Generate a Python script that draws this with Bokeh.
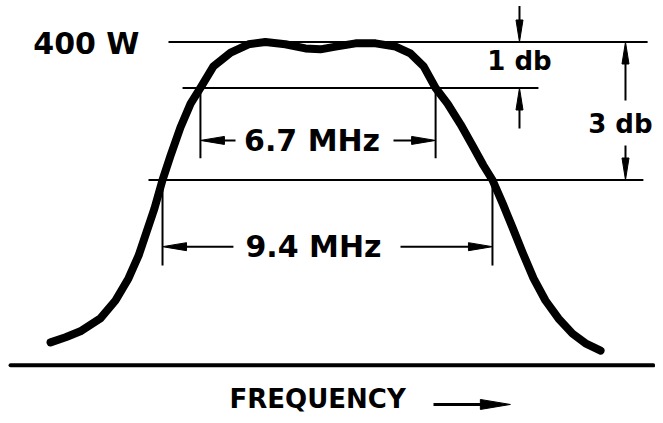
import math
from bokeh.plotting import figure
from bokeh.models import Range1d
from bokeh.core.properties import value
from bokeh.embed import file_html
from bokeh.resources import INLINE

# ---------------- data ----------------
# Frequency offset from band centre (MHz) and response level (dB re 400 W)
freq_mhz = [-7.89, -7.46, -7.04, -6.47, -6.04, -5.67, -5.38, -5.16, -4.93, -4.70,
            -4.47, -4.19, -3.90, -3.62, -3.25, -2.76, -2.25, -1.77, -1.20, -0.63,
            -0.20, 0.23, 0.80, 1.37, 1.94, 2.36, 2.74, 3.08, 3.42, 3.79,
            4.13, 4.44, 4.70, 4.99, 5.27, 5.56, 5.87, 6.21, 6.58, 6.98,
            7.35, 7.78]
level_db = [-6.53, -6.42, -6.29, -6.01, -5.62, -5.14, -4.64, -4.14, -3.62, -3.00,
            -2.47, -1.86, -1.34, -1.00, -0.53, -0.23, -0.05, 0.00, -0.05, -0.14,
            -0.16, -0.10, -0.03, -0.03, -0.10, -0.25, -0.53, -1.00, -1.34, -1.79,
            -2.25, -2.68, -3.00, -3.51, -4.03, -4.58, -5.14, -5.62, -6.01, -6.34,
            -6.55, -6.71]

ref_levels_db = [0.0, -1.0, -3.0]
ref_power_label = "400 W"
drop_labels = ["1 db", "3 db"]
bw_1db_edges = [-3.62, 3.08]     # 6.7 MHz
bw_3db_edges = [-4.70, 4.70]     # 9.4 MHz
bw_labels = ["6.7 MHz", "9.4 MHz"]
axis_label = "FREQUENCY"
baseline_db = -7.03

# ---------------- layout ----------------
W, H = 655, 415
X0, X1 = -9.316, 9.345
Y0, Y1 = -8.120, 0.902
SX = W / (X1 - X0)
SY = H / (Y1 - Y0)

FONT = value("DejaVu Sans")
INK = "#000000"

p = figure(width=W, height=H, output_backend="svg", toolbar_location=None,
           x_range=Range1d(X0, X1), y_range=Range1d(Y0, Y1),
           x_axis_location=None, y_axis_location=None, min_border=0,
           outline_line_color=None, background_fill_color="white",
           border_fill_color="white")
p.xgrid.visible = False
p.ygrid.visible = False

# reference horizontal lines
ref_x0 = [-4.53, -4.13, -5.10]
ref_x1 = [9.12, 6.01, 9.00]
p.segment(x0=ref_x0, y0=ref_levels_db, x1=ref_x1, y1=ref_levels_db,
          line_color=INK, line_width=2)
# baseline
p.segment(x0=[-9.03], y0=[baseline_db], x1=[9.28], y1=[baseline_db],
          line_color=INK, line_width=4, line_cap="round")

# extension lines for the bandwidth dimensions
ext_bottom_1db = -2.53
ext_bottom_3db = -4.86
p.segment(x0=bw_1db_edges, y0=[ref_levels_db[1]] * 2, x1=bw_1db_edges,
          y1=[ext_bottom_1db] * 2, line_color=INK, line_width=2)
p.segment(x0=bw_3db_edges, y0=[ref_levels_db[2]] * 2, x1=bw_3db_edges,
          y1=[ext_bottom_3db] * 2, line_color=INK, line_width=2)

# response curve
p.line(freq_mhz, level_db, line_color=INK, line_width=8,
       line_join="round", line_cap="round")

# ---------------- arrows ----------------
shafts = {"x0": [], "y0": [], "x1": [], "y1": [], "w": []}
heads_x, heads_y = [], []


def arrow(xt, yt, xh, yh, head_len=24, head_w=8, shaft_w=2):
    dxp = (xh - xt) * SX
    dyp = (yh - yt) * SY
    L = math.hypot(dxp, dyp)
    ux, uy = dxp / L, dyp / L
    nx, ny = -uy, ux
    bx = xh - ux * head_len / SX
    by = yh - uy * head_len / SY
    shafts["x0"].append(xt); shafts["y0"].append(yt)
    shafts["x1"].append(bx + ux * 2 / SX); shafts["y1"].append(by + uy * 2 / SY)
    shafts["w"].append(shaft_w)
    heads_x.append([xh, bx + nx * head_w / 2 / SX, bx - nx * head_w / 2 / SX])
    heads_y.append([yh, by + ny * head_w / 2 / SY, by - ny * head_w / 2 / SY])


row_67 = -2.14
row_94 = -4.45
arrow(-2.62, row_67, bw_1db_edges[0], row_67)
arrow(1.88, row_67, bw_1db_edges[1], row_67)
arrow(-2.68, row_94, bw_3db_edges[0], row_94)
arrow(2.08, row_94, bw_3db_edges[1], row_94)

col_1db = 5.47
col_3db = 8.49
arrow(col_1db, 0.78, col_1db, ref_levels_db[0], head_len=22, head_w=7)
arrow(col_1db, -1.88, col_1db, ref_levels_db[1], head_len=22, head_w=7)
arrow(col_3db, -1.27, col_3db, ref_levels_db[0], head_len=22, head_w=7)
arrow(col_3db, -2.25, col_3db, ref_levels_db[2], head_len=22, head_w=7)

freq_row = -7.88
arrow(3.02, freq_row, 5.21, freq_row, head_len=30, head_w=10, shaft_w=3)

p.segment(x0="x0", y0="y0", x1="x1", y1="y1", line_width="w",
          line_color=INK, source=shafts)
p.patches(heads_x, heads_y, fill_color=INK, line_color=INK, line_width=1)

# ---------------- texts ----------------
big_x = [-6.87, -0.44, -0.40]
big_y = [ref_levels_db[0] - 0.03, row_67, row_94]
big_t = [ref_power_label, bw_labels[0], bw_labels[1]]
p.text(x=big_x, y=big_y, text=big_t, text_font=FONT, text_font_style="bold",
       text_font_size="30px", text_align="center", text_baseline="middle",
       text_color=INK)

p.text(x=[-0.28], y=[freq_row + 0.12], text=[axis_label], text_font=FONT,
       text_font_style="bold", text_font_size="26px", text_align="center",
       text_baseline="middle", text_color=INK)

p.text(x=[col_1db], y=[-0.42], text=[drop_labels[0]], text_font=FONT,
       text_font_style="bold", text_font_size="26px", text_align="center",
       text_baseline="middle", text_color=INK)
p.text(x=[9.26], y=[-1.79], text=[drop_labels[1]], text_font=FONT,
       text_font_style="bold", text_font_size="26px", text_align="right",
       text_baseline="middle", text_color=INK)

open("out.html", "w").write(file_html(p, INLINE))
